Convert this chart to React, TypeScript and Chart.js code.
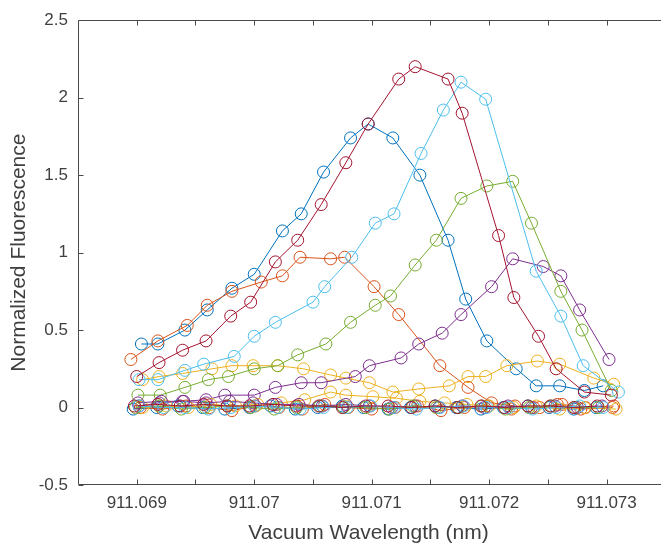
import React, { useEffect, useRef } from 'react';
import { Chart, registerables } from 'chart.js';

Chart.register(...registerables);

// ---- Data (wavelength in nm, normalized fluorescence) ----
const blue1X = [911.06904, 911.06918, 911.06941, 911.0696, 911.06981, 911.07, 911.07024, 911.0704, 911.07059, 911.07082, 911.07097, 911.07118, 911.07141, 911.07165, 911.0718, 911.07198, 911.07223, 911.0724, 911.0726, 911.07281, 911.07297];
const blue1Y = [0.41, 0.41, 0.5, 0.63, 0.77, 0.86, 1.14, 1.25, 1.52, 1.74, 1.83, 1.74, 1.5, 1.08, 0.7, 0.43, 0.25, 0.14, 0.14, 0.11, 0.14];

const orange1X = [911.06895, 911.06918, 911.06943, 911.0696, 911.06981, 911.07006, 911.07024, 911.07039, 911.07065, 911.07077, 911.07102, 911.07123, 911.07158, 911.07182, 911.07202, 911.07222, 911.07243, 911.07262, 911.07282, 911.07306];
const orange1Y = [0.31, 0.43, 0.53, 0.66, 0.75, 0.81, 0.85, 0.97, 0.96, 0.97, 0.78, 0.6, 0.27, 0.13, 0.03, 0.01, 0.0, 0.02, 0.0, 0.01];

const yellow1X = [911.06905, 911.06919, 911.06939, 911.06964, 911.06981, 911.06999, 911.0702, 911.07042, 911.07065, 911.07078, 911.07098, 911.07118, 911.0714, 911.07166, 911.07182, 911.07197, 911.07215, 911.07241, 911.0726, 911.07289, 911.07306];
const yellow1Y = [0.18, 0.2, 0.22, 0.25, 0.27, 0.27, 0.27, 0.25, 0.21, 0.19, 0.16, 0.1, 0.12, 0.14, 0.2, 0.2, 0.27, 0.3, 0.28, 0.19, 0.15];

const purple1X = [911.06902, 911.06919, 911.06939, 911.06959, 911.06975, 911.07, 911.07018, 911.0704, 911.07057, 911.07086, 911.07098, 911.07125, 911.0714, 911.0716, 911.07176, 911.07202, 911.0722, 911.07246, 911.07261, 911.07277, 911.07302];
const purple1Y = [0.01, 0.03, 0.04, 0.05, 0.08, 0.08, 0.13, 0.16, 0.16, 0.2, 0.27, 0.32, 0.41, 0.48, 0.6, 0.78, 0.96, 0.91, 0.85, 0.63, 0.31];

const green1X = [911.06901, 911.0692, 911.06941, 911.06961, 911.06978, 911.07, 911.0702, 911.07037, 911.07061, 911.07082, 911.07103, 911.07116, 911.07137, 911.07155, 911.07176, 911.07198, 911.0722, 911.07236, 911.07261, 911.07279, 911.07304];
const green1Y = [0.08, 0.08, 0.13, 0.18, 0.2, 0.25, 0.27, 0.34, 0.41, 0.55, 0.66, 0.72, 0.92, 1.08, 1.35, 1.43, 1.46, 1.19, 0.75, 0.5, 0.11];

const lightBlue1X = [911.06902, 911.06918, 911.06941, 911.06957, 911.06983, 911.07, 911.07018, 911.0705, 911.0706, 911.07083, 911.07103, 911.07119, 911.07142, 911.07161, 911.07176, 911.07197, 911.0724, 911.07261, 911.0728, 911.0731];
const lightBlue1Y = [0.18, 0.18, 0.24, 0.28, 0.33, 0.46, 0.55, 0.68, 0.78, 0.97, 1.19, 1.25, 1.64, 1.92, 2.1, 1.99, 0.88, 0.59, 0.27, 0.1];

const darkRed1X = [911.069, 911.06919, 911.06939, 911.06959, 911.0698, 911.06997, 911.07018, 911.07037, 911.07057, 911.07078, 911.07097, 911.07123, 911.07137, 911.07165, 911.07177, 911.07208, 911.07221, 911.07242, 911.07257, 911.07281, 911.07304];
const darkRed1Y = [0.2, 0.29, 0.37, 0.43, 0.59, 0.68, 0.94, 1.08, 1.31, 1.58, 1.83, 2.12, 2.2, 2.12, 1.9, 1.11, 0.71, 0.46, 0.25, 0.1, 0.08];

const blue2X = [911.06897, 911.06917, 911.06935, 911.06956, 911.06975, 911.06996, 911.07014, 911.07035, 911.07054, 911.07075, 911.07093, 911.07114, 911.07133, 911.07154, 911.07172, 911.07193, 911.07212, 911.07233, 911.07251, 911.07272, 911.07291];
const blue2Y = [-0.01, 0.0, 0.01, 0.0, -0.01, 0.0, 0.01, -0.01, 0.0, 0.01, 0.0, -0.01, 0.0, 0.01, 0.0, -0.01, 0.0, 0.01, 0.0, -0.01, 0.0];

const orange2X = [911.06903, 911.06922, 911.06942, 911.06962, 911.06981, 911.07001, 911.07021, 911.07041, 911.0706, 911.0708, 911.071, 911.0712, 911.07139, 911.07159, 911.07179, 911.07199, 911.07219, 911.07238, 911.07258, 911.07278, 911.07305];
const orange2Y = [0.0, -0.01, 0.01, 0.0, -0.02, 0.01, 0.0, -0.01, 0.02, 0.0, -0.01, 0.0, 0.01, -0.02, 0.0, 0.01, -0.01, 0.0, 0.02, -0.01, 0.0];

const yellow2X = [911.06905, 911.06925, 911.06944, 911.06963, 911.06984, 911.07003, 911.07023, 911.07043, 911.07065, 911.07078, 911.07101, 911.07121, 911.07141, 911.07162, 911.07181, 911.072, 911.07221, 911.0724, 911.0726, 911.07281, 911.07308];
const yellow2Y = [0.0, 0.01, 0.0, 0.02, 0.01, 0.02, 0.03, 0.05, 0.1, 0.08, 0.07, 0.06, 0.04, 0.03, 0.02, 0.01, 0.0, 0.01, -0.01, 0.0, -0.01];

const purple2X = [911.06901, 911.06921, 911.0694, 911.06959, 911.06979, 911.06999, 911.07019, 911.07038, 911.07058, 911.07078, 911.07098, 911.07117, 911.07137, 911.07157, 911.07177, 911.07196, 911.07216, 911.07236, 911.07256, 911.07275, 911.07296];
const purple2Y = [0.03, 0.04, 0.04, 0.03, 0.04, 0.03, 0.02, 0.02, 0.01, 0.02, 0.01, 0.0, 0.01, 0.0, 0.01, 0.0, 0.01, 0.0, 0.01, 0.0, 0.01];

const green2X = [911.06899, 911.06919, 911.06938, 911.06958, 911.06977, 911.06997, 911.07017, 911.07036, 911.07056, 911.07076, 911.07095, 911.07115, 911.07135, 911.07155, 911.07174, 911.07194, 911.07214, 911.07234, 911.07253, 911.07273, 911.07293];
const green2Y = [0.0, 0.01, -0.01, 0.0, 0.01, 0.0, -0.01, 0.0, 0.01, 0.0, 0.0, -0.01, 0.01, 0.0, 0.0, 0.01, -0.01, 0.0, 0.01, 0.0, 0.0];

const lightBlue2X = [911.06902, 911.06923, 911.06941, 911.06961, 911.0698, 911.07, 911.0702, 911.07039, 911.07059, 911.07079, 911.07099, 911.07119, 911.07138, 911.07158, 911.07178, 911.07198, 911.07217, 911.07237, 911.07257, 911.07277, 911.07297];
const lightBlue2Y = [0.01, 0.0, 0.0, -0.01, 0.0, 0.01, 0.0, -0.01, 0.0, 0.0, 0.01, 0.0, -0.01, 0.0, 0.01, 0.0, 0.0, -0.01, 0.0, 0.01, 0.0];

const darkRed2X = [911.06898, 911.06918, 911.06937, 911.06957, 911.06977, 911.06996, 911.07016, 911.07036, 911.07055, 911.07075, 911.07095, 911.07114, 911.07134, 911.07154, 911.07173, 911.07193, 911.07213, 911.07233, 911.07252, 911.07272, 911.07292];
const darkRed2Y = [0.01, 0.02, 0.01, 0.02, 0.01, 0.01, 0.02, 0.01, 0.01, 0.0, 0.01, 0.01, 0.0, 0.01, 0.0, 0.01, 0.0, 0.01, 0.01, 0.0, 0.01];

// ---- Axis ticks ----
const xTicks = [911.0685, 911.069, 911.0695, 911.07, 911.0705, 911.071, 911.0715, 911.072, 911.0725, 911.073];
const xLabeled = [911.069, 911.07, 911.071, 911.072, 911.073];
const yTicks = [-0.5, 0, 0.5, 1, 1.5, 2, 2.5];

const xTitle = 'Vacuum Wavelength (nm)';
const yTitle = 'Normalized Fluorescence';

const series = [
  { x: blue1X, y: blue1Y, color: '#0072BD' },
  { x: orange1X, y: orange1Y, color: '#D95319' },
  { x: yellow1X, y: yellow1Y, color: '#EDB120' },
  { x: purple1X, y: purple1Y, color: '#7E2F8E' },
  { x: green1X, y: green1Y, color: '#77AC30' },
  { x: lightBlue1X, y: lightBlue1Y, color: '#4DBEEE' },
  { x: darkRed1X, y: darkRed1Y, color: '#A2142F' },
  { x: blue2X, y: blue2Y, color: '#0072BD' },
  { x: orange2X, y: orange2Y, color: '#D95319' },
  { x: yellow2X, y: yellow2Y, color: '#EDB120' },
  { x: purple2X, y: purple2Y, color: '#7E2F8E' },
  { x: green2X, y: green2Y, color: '#77AC30' },
  { x: lightBlue2X, y: lightBlue2Y, color: '#4DBEEE' },
  { x: darkRed2X, y: darkRed2Y, color: '#A2142F' },
];

const AXIS_COLOR = '#4a4a4a';
const TEXT_COLOR = '#3f3f3f';
const FONT = "'Liberation Sans', Arial, Helvetica, sans-serif";

const framePlugin = {
  id: 'matlabFrame',
  beforeDatasetsDraw(chart: any) {
    const { ctx, chartArea } = chart;
    const xs = chart.scales.x;
    const ys = chart.scales.y;
    const L = Math.round(chartArea.left) + 0.5;
    const T = Math.round(chartArea.top) + 0.5;
    const B = Math.round(chartArea.bottom) - 0.5;
    const R = chartArea.right + 2;
    ctx.save();
    ctx.strokeStyle = AXIS_COLOR;
    ctx.lineWidth = 1;
    ctx.beginPath();
    ctx.moveTo(R, T);
    ctx.lineTo(L, T);
    ctx.lineTo(L, B);
    ctx.lineTo(R, B);
    const tl = 5;
    for (const v of xTicks) {
      const px = Math.round(xs.getPixelForValue(v)) + 0.5;
      if (px <= L + 1) continue;
      ctx.moveTo(px, B);
      ctx.lineTo(px, B - tl);
      ctx.moveTo(px, T);
      ctx.lineTo(px, T + tl);
    }
    for (const v of yTicks) {
      const py = Math.round(ys.getPixelForValue(v)) + 0.5;
      ctx.moveTo(L, py);
      ctx.lineTo(L + tl, py);
    }
    ctx.stroke();
    ctx.restore();
  },
};

export default function App() {
  const canvasRef = useRef<HTMLCanvasElement | null>(null);

  useEffect(() => {
    const canvas = canvasRef.current;
    if (!canvas) return;
    const n = series.length;
    const datasets = series.map((s, i) => ({
      data: s.x.map((xv, j) => ({ x: xv, y: s.y[j] })),
      borderColor: s.color,
      pointBorderColor: s.color,
      backgroundColor: 'rgba(0,0,0,0)',
      pointBackgroundColor: 'rgba(0,0,0,0)',
      borderWidth: 1,
      pointBorderWidth: 1,
      pointRadius: 6,
      pointStyle: 'circle',
      tension: 0,
      showLine: true,
      fill: false,
      order: n - i,
    }));

    const chart = new Chart(canvas, {
      type: 'line',
      data: { datasets },
      plugins: [framePlugin],
      options: {
        animation: false,
        responsive: false,
        devicePixelRatio: 1,
        layout: { padding: { top: 14, left: 0, right: 0, bottom: 0 } },
        plugins: {
          legend: { display: false },
          tooltip: { enabled: false },
          title: { display: false },
        },
        scales: {
          x: {
            type: 'linear',
            min: 911.0685,
            max: 911.0734454,
            grid: { display: false, drawTicks: false, tickLength: 0 },
            border: { display: false },
            afterBuildTicks: (scale: any) => {
              scale.ticks = xTicks.map((v) => ({ value: v }));
            },
            afterFit: (scale: any) => {
              scale.height = 61;
            },
            ticks: {
              autoSkip: false,
              maxRotation: 0,
              minRotation: 0,
              padding: 8,
              color: TEXT_COLOR,
              font: { family: FONT, size: 17 },
              callback: (value: any) => {
                const v = Number(value);
                const hit = xLabeled.find((l) => Math.abs(l - v) < 1e-7);
                return hit !== undefined ? String(parseFloat(hit.toFixed(3))) : '';
              },
            },
            title: {
              display: true,
              text: xTitle,
              color: TEXT_COLOR,
              font: { family: FONT, size: 21 },
              padding: { top: 0, bottom: 0 },
            },
          },
          y: {
            type: 'linear',
            min: -0.5,
            max: 2.5,
            grid: { display: false, drawTicks: false, tickLength: 0 },
            border: { display: false },
            afterBuildTicks: (scale: any) => {
              scale.ticks = yTicks.map((v) => ({ value: v }));
            },
            afterFit: (scale: any) => {
              scale.width = 78;
            },
            ticks: {
              autoSkip: false,
              padding: 10,
              color: TEXT_COLOR,
              font: { family: FONT, size: 17 },
              callback: (value: any) => String(Number(value)),
            },
            title: {
              display: true,
              text: yTitle,
              color: TEXT_COLOR,
              font: { family: FONT, size: 21 },
              padding: { top: 7, bottom: 0 },
            },
          },
        },
      },
    } as any);

    return () => {
      chart.destroy();
    };
  }, []);

  return (
    <div style={{ position: 'absolute', left: 0, top: 0, width: 666, height: 546, background: '#ffffff', overflow: 'hidden' }}>
      <canvas ref={canvasRef} width={666} height={546} style={{ display: 'block' }} />
    </div>
  );
}
